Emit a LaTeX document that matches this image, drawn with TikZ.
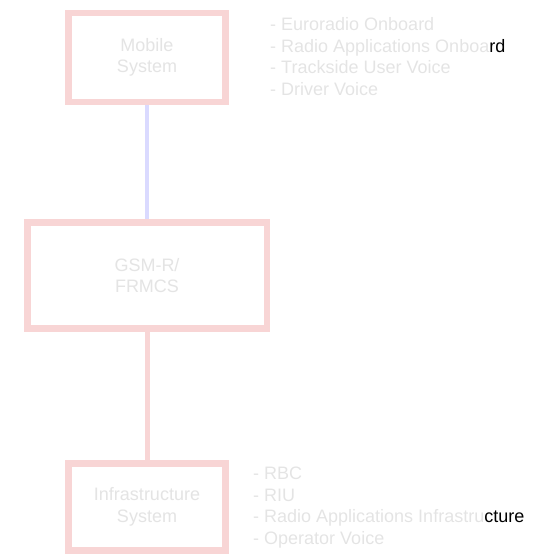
\documentclass[tikz,border=0pt]{standalone}
\usepackage{fontspec}
\setmainfont{Liberation Sans}
\usepackage{xcolor}
\definecolor{boxPink}{RGB}{248, 213, 213}
\definecolor{linkBlue}{RGB}{218, 218, 255}
\definecolor{fadedGray}{RGB}{228, 228, 228}

\begin{document}
\begin{tikzpicture}[x=1pt, y=-1pt,
    sysbox/.style={draw=boxPink, line width=6.5pt, fill=white, minimum width=157pt, minimum height=89pt, align=center, text=fadedGray, inner sep=0pt},
    listtext/.style={anchor=west, align=left, text=fadedGray, inner sep=0pt},
    every node/.style={font=\fontsize{18}{21.5}\selectfont}]
    \useasboundingbox (0,0) rectangle (538,555);
    % systems
    \node[sysbox] (mobile) at (147,57.5) {Mobile\\System};
    \node[sysbox, minimum width=239.5pt, minimum height=106pt] (gsm) at (147,275.5) {GSM-R/\\FRMCS};
    \node[sysbox, minimum height=87pt] (infra) at (147,507) {Infrastructure\\System};
    % links
    \draw[linkBlue, line width=4pt] (mobile) -- (gsm);
    \draw[boxPink, line width=5pt] (gsm) -- (infra);
    % component lists
    \node[listtext] (mobilelist) at (270,56.5) {- Euroradio Onboard\\- Radio Applications Onboa\textcolor{black}{rd}\\- Trackside User Voice\\- Driver Voice};
    \node[listtext] (infralist) at (253,507.5) {- RBC\\- RIU\\- Radio Applications Infrastru\textcolor{black}{cture}\\- Operator Voice};
\end{tikzpicture}
\end{document}
